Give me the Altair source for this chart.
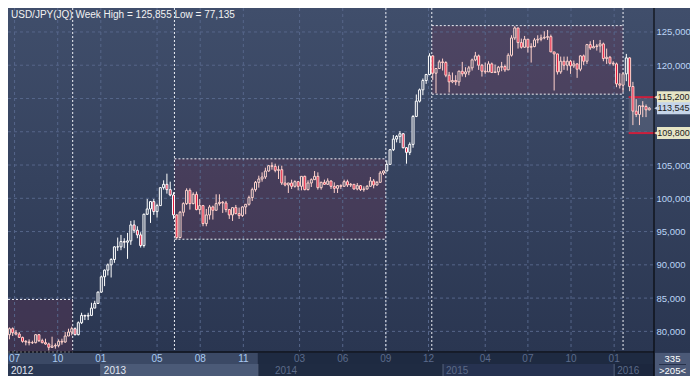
import altair as alt
import pandas as pd

TITLE = "USD/JPY(JQ) Week High = 125,855 Low = 77,135"
FIRST_WEEK = "2012-06-20"

# weekly OHLC, Jun 2012 .. Mar 2016 (one line per calendar year)
opens = [
    79.5, 80.4, 79.8, 79.6, 79.1, 78.5, 78.4, 78.3, 78.3, 79.5, 78.6, 78.3, 78.1, 77.6, 77.8, 77.9, 78.5, 78.4, 79.3, 79.9, 80.4, 79.5, 81.3, 82.4, 82.3, 82.4, 83.5, 84.2, 85.9,
    88.2, 89.2, 90.0, 90.8, 92.7, 92.7, 93.5, 93.4, 93.6, 96.0, 95.2, 94.5, 92.9, 97.6, 98.4, 99.5, 98.0, 98.9, 101.6, 102.1, 101.3, 100.5, 97.5, 94.1, 97.9, 99.2, 101.2, 99.2, 100.6, 98.3, 98.9, 96.2, 97.5, 98.7, 98.2, 99.2, 99.4, 99.3, 98.3, 97.5, 98.6, 97.7, 97.4, 98.7, 99.1, 100.1, 101.3, 102.4, 102.9, 103.2, 104.1, 104.9,
    104.8, 104.2, 104.3, 102.3, 102.0, 102.3, 101.8, 102.5, 101.8, 103.3, 101.3, 102.3, 102.8, 103.3, 101.6, 102.4, 102.1, 102.6, 101.8, 101.5, 101.9, 101.8, 102.5, 102.0, 102.1, 101.4, 101.9, 101.3, 101.4, 101.8, 102.6, 102.0, 102.4, 103.8, 104.1, 105.1, 107.3, 108.9, 109.3, 109.7, 107.6, 106.9, 108.1, 112.3, 114.6, 116.3, 117.7, 118.6, 121.4, 118.8, 119.5, 120.5,
    120.4, 118.5, 117.5, 117.7, 117.5, 119.1, 118.7, 119.0, 119.6, 120.8, 121.4, 120.0, 119.1, 119.0, 120.2, 118.9, 119.0, 119.7, 119.8, 119.3, 121.5, 124.1, 125.6, 123.4, 122.7, 123.9, 122.7, 122.8, 123.8, 123.9, 124.1, 124.2, 124.3, 122.0, 121.7, 119.0, 120.6, 120.0, 120.6, 119.9, 120.2, 119.4, 121.4, 120.6, 123.1, 122.6, 122.8, 122.9, 123.2, 121.0, 121.2, 120.3,
    120.2, 117.2, 117.0, 118.7, 121.1, 116.8, 113.1, 112.6, 113.9, 113.8, 113.3,
]
highs = [
    80.6, 80.6, 80.2, 79.9, 79.2, 78.7, 78.8, 78.6, 79.6, 79.6, 78.9, 78.9, 78.3, 79.2, 78.2, 78.8, 78.9, 79.9, 80.4, 80.7, 80.6, 81.5, 82.8, 82.5, 82.8, 84.3, 84.6, 86.0, 88.4,
    89.3, 90.2, 91.0, 92.8, 94.1, 94.5, 94.0, 94.8, 96.6, 96.7, 95.8, 94.9, 97.7, 99.9, 99.6, 99.9, 99.2, 101.6, 102.7, 103.7, 102.5, 100.9, 97.6, 98.1, 99.4, 101.5, 101.5, 100.9, 101.0, 99.9, 99.0, 98.4, 99.0, 98.9, 100.6, 100.6, 99.6, 99.6, 98.4, 98.6, 99.0, 98.6, 98.8, 99.1, 100.4, 101.6, 102.6, 103.4, 103.9, 104.6, 105.0, 105.4,
    105.2, 104.9, 104.9, 103.4, 102.3, 102.8, 102.7, 102.6, 103.3, 103.4, 102.7, 103.0, 104.1, 103.9, 102.5, 102.8, 103.0, 102.7, 102.4, 102.0, 102.1, 102.8, 102.8, 102.3, 102.1, 102.3, 102.0, 101.8, 102.0, 103.2, 102.9, 102.6, 104.1, 104.2, 105.7, 107.4, 109.5, 109.5, 110.1, 109.8, 107.7, 108.4, 112.5, 115.6, 116.5, 118.0, 118.7, 121.8, 121.5, 119.5, 120.8, 121.0,
    120.6, 119.0, 118.9, 118.5, 119.2, 120.5, 119.7, 119.9, 121.0, 122.0, 121.6, 120.2, 120.4, 120.6, 120.4, 120.1, 119.9, 120.5, 120.1, 121.8, 124.5, 125.855, 125.6, 124.0, 124.4, 123.9, 123.3, 124.1, 124.5, 124.6, 125.1, 125.3, 124.6, 122.0, 121.7, 121.3, 121.3, 121.3, 120.8, 120.7, 120.3, 121.5, 121.6, 123.2, 123.6, 123.8, 123.2, 123.8, 123.4, 122.5, 121.4, 120.6,
    120.4, 118.8, 118.9, 121.7, 121.2, 117.5, 114.9, 114.0, 114.6, 114.1, 113.7,
]
lows = [
    78.8, 79.3, 79.4, 79.0, 78.3, 77.9, 77.9, 78.1, 78.2, 78.4, 78.2, 78.0, 77.135, 77.5, 77.4, 77.6, 78.0, 78.3, 79.3, 79.4, 79.4, 79.4, 81.1, 81.7, 81.7, 82.3, 83.5, 84.2, 85.8,
    86.8, 88.4, 88.1, 90.3, 92.1, 92.2, 92.5, 90.9, 93.0, 94.8, 94.0, 92.6, 92.6, 97.5, 96.3, 97.5, 97.1, 98.9, 101.3, 100.7, 100.3, 96.9, 93.8, 94.0, 97.3, 99.0, 98.3, 99.1, 98.2, 97.6, 95.8, 95.8, 96.8, 96.8, 98.2, 98.9, 97.8, 97.9, 96.9, 96.6, 97.6, 96.9, 97.2, 97.6, 98.9, 99.6, 101.0, 101.6, 102.5, 102.9, 104.0, 104.3,
    103.9, 102.9, 102.0, 101.8, 100.8, 101.4, 101.6, 101.2, 101.2, 101.2, 101.2, 101.7, 102.8, 101.3, 101.3, 102.0, 102.0, 101.4, 100.8, 100.8, 101.4, 101.8, 101.7, 101.7, 101.3, 101.2, 101.1, 101.0, 101.3, 101.8, 101.5, 101.9, 102.4, 103.5, 104.1, 105.1, 107.1, 108.4, 108.3, 107.5, 105.2, 106.5, 107.6, 112.2, 114.4, 115.5, 117.2, 118.5, 117.8, 115.8, 119.5, 119.2,
    118.2, 115.9, 117.3, 117.0, 116.9, 118.3, 118.2, 118.5, 119.2, 120.6, 119.3, 118.3, 118.7, 119.0, 118.9, 118.9, 118.5, 119.1, 119.0, 119.3, 121.3, 123.8, 122.5, 122.5, 122.6, 121.9, 120.4, 122.7, 123.3, 123.6, 123.9, 123.8, 122.0, 116.2, 118.6, 118.7, 119.3, 119.2, 118.7, 119.6, 118.1, 119.1, 120.0, 120.2, 122.3, 122.6, 122.2, 121.9, 120.6, 120.2, 120.1, 119.9,
    116.7, 116.5, 115.98, 117.6, 116.1, 111.0, 112.2, 111.0, 112.2, 112.2, 113.2,
]
closes = [
    80.4, 79.8, 79.6, 79.1, 78.5, 78.4, 78.3, 78.3, 79.5, 78.6, 78.3, 78.1, 77.6, 77.8, 77.9, 78.5, 78.4, 79.3, 79.9, 80.4, 79.5, 81.3, 82.4, 82.3, 82.4, 83.5, 84.2, 85.9, 88.2,
    89.2, 90.0, 90.8, 92.7, 92.7, 93.5, 93.4, 93.6, 96.0, 95.2, 94.5, 92.9, 97.6, 98.4, 99.5, 98.0, 98.9, 101.6, 102.1, 101.3, 100.5, 97.5, 94.1, 97.9, 99.2, 101.2, 99.2, 100.6, 98.3, 98.9, 96.2, 97.5, 98.7, 98.2, 99.2, 99.4, 99.3, 98.3, 97.5, 98.6, 97.7, 97.4, 98.7, 99.1, 100.1, 101.3, 102.4, 102.9, 103.2, 104.1, 104.9, 104.8,
    104.2, 104.3, 102.3, 102.0, 102.3, 101.8, 102.5, 101.8, 103.3, 101.3, 102.3, 102.8, 103.3, 101.6, 102.4, 102.1, 102.6, 101.8, 101.5, 101.9, 101.8, 102.5, 102.0, 102.1, 101.4, 101.9, 101.3, 101.4, 101.8, 102.6, 102.0, 102.4, 103.8, 104.1, 105.1, 107.3, 108.9, 109.3, 109.7, 107.6, 106.9, 108.1, 112.3, 114.6, 116.3, 117.7, 118.6, 121.4, 118.8, 119.5, 120.5, 120.4,
    118.5, 117.5, 117.7, 117.5, 119.1, 118.7, 119.0, 119.6, 120.8, 121.4, 120.0, 119.1, 119.0, 120.2, 118.9, 119.0, 119.7, 119.8, 119.3, 121.5, 124.1, 125.6, 123.4, 122.7, 123.9, 122.7, 122.8, 123.8, 123.9, 124.1, 124.2, 124.3, 122.0, 121.7, 119.0, 120.6, 120.0, 120.6, 119.9, 120.2, 119.4, 121.4, 120.6, 123.1, 122.6, 122.8, 122.9, 123.2, 121.0, 121.2, 120.3, 120.2,
    117.2, 117.0, 118.7, 121.1, 116.8, 113.1, 112.6, 113.9, 113.8, 113.3, 113.545,
]

x_start_str, x_end_str = "2012-06-17", "2016-03-26"
grid_levels = [80, 85, 90, 95, 100, 105, 110, 115, 120, 125]
axis_levels = [80, 85, 90, 95, 100, 105, 120, 125]

month_dates = ["2012-07-01", "2012-10-01", "2013-01-01", "2013-05-01", "2013-08-01", "2013-11-01",
               "2014-03-01", "2014-06-01", "2014-09-01", "2014-12-01", "2015-04-01", "2015-07-01",
               "2015-10-01", "2016-01-01"]
month_texts = ["07", "10", "01", "05", "08", "11", "03", "06", "09", "12", "04", "07", "10", "01"]
month_keys = ["m_hi"] * 6 + ["m_lo"] * 8

year_dates = ["2012-06-17", "2013-01-01", "2014-01-01", "2015-01-01", "2016-01-01"]
year_texts = ["2012", "2013", "2014", "2015", "2016"]
year_keys = ["y_hi", "y_hi", "y_lo", "y_lo", "y_lo"]

shade_starts = ["2012-06-17", "2013-06-07", "2014-12-08"]
shade_ends = ["2012-11-02", "2014-09-01", "2016-01-20"]
shade_tops = [84.8, 105.93, 125.95]
shade_bottoms = [76.9, 93.85, 115.65]
divider_dates = ["2012-11-02", "2013-06-07", "2014-09-01", "2014-12-08", "2016-01-20"]

range_start = "2016-02-01"
range_high = 115.2
range_low = 109.8
tag_values = [115.2, 113.545, 109.8]
tag_texts = ["115,200", "113,545", "109,800"]
tag_keys = ["tag_range", "tag_last", "tag_range"]

month_band_starts = ["2012-06-17", "2013-12-02"]
month_band_ends = ["2013-12-02", "2016-03-26"]
month_band_keys = ["m_hi", "m_lo"]
year_band_starts = ["2012-06-17", "2013-01-01", "2013-12-02", "2015-01-01", "2016-01-01"]
year_band_ends = ["2013-01-01", "2013-12-02", "2015-01-01", "2016-01-01", "2016-03-26"]
year_band_keys = ["y12", "y13", "y14", "y15", "y16"]
year_seps = ["2013-01-01", "2013-12-02", "2015-01-01", "2016-01-01"]

corner_texts = ["335", ">205<"]

# ---------------- layout / styles ----------------
W, H = 646, 344
PAD_R, PAD_B = 36, 24
FONT = "Liberation Sans"

xscale = alt.Scale(domain=[alt.DateTime(year=2012, month=6, date=17),
                           alt.DateTime(year=2016, month=3, date=26)], nice=False, padding=0)
yscale = alt.Scale(domain=[76.9, 128.6], nice=False, zero=False, padding=0)
yaxis = alt.Axis(orient="right", values=axis_levels, title=None, domain=False, ticks=False, grid=False,
                 labelExpr="replace(format(datum.value, '.3f'), '.', ',')",
                 labelColor="#bcd4f6", labelFont=FONT, labelFontSize=9.5, labelPadding=2, zindex=1)

FILL_SCALE = alt.Scale(
    domain=["up", "down", "m_hi", "m_lo", "y12", "y13", "y14", "y15", "y16"],
    range=["#33405c", "#e2163a", "#3b4965", "#1e2a41", "#2b3853", "#4b5a77", "#1f2b42", "#263250", "#1c273e"])
STROKE_SCALE = alt.Scale(domain=["white", "pink"], range=["#ffffff", "#ffd2cc"])
COLOR_SCALE = alt.Scale(
    domain=["m_hi", "m_lo", "y_hi", "y_lo", "tag_range", "tag_last"],
    range=["#a9c9f2", "#5b6b8b", "#e2e8f3", "#5b6a88", "#e6e5c6", "#c6d5ea"])


def X(f):
    return alt.X(f"{f}:T", scale=xscale, axis=None)


def Y(f):
    return alt.Y(f"{f}:Q", scale=yscale, axis=yaxis)


# ---------------- tables ----------------
dates = pd.date_range(FIRST_WEEK, periods=len(closes), freq="7D")
candles = pd.DataFrame({"date": dates, "open": opens, "high": highs, "low": lows, "close": closes})
candles["dir"] = ["down" if c < o else "up" for o, c in zip(opens, closes)]
zone_bounds = [(pd.Timestamp(s), pd.Timestamp(e))
               for s, e in zip(shade_starts + [range_start], shade_ends + [x_end_str])]
candles["tone"] = ["pink" if any(s <= d <= e for s, e in zone_bounds) else "white" for d in dates]

one = pd.DataFrame({"k": [0]})
shade_df = pd.DataFrame({"start": shade_starts, "end": shade_ends, "top": shade_tops, "bottom": shade_bottoms})
range_df = pd.DataFrame({"start": [range_start], "high": [range_high], "low": [range_low]})
month_df = pd.DataFrame({"date": month_dates, "label": month_texts, "key": month_keys})
year_df = pd.DataFrame({"date": year_dates, "label": year_texts, "key": year_keys})
mband_df = pd.DataFrame({"start": month_band_starts, "end": month_band_ends, "key": month_band_keys})
yband_df = pd.DataFrame({"start": year_band_starts, "end": year_band_ends, "key": year_band_keys})
tag_df = pd.DataFrame({"value": tag_values, "label": tag_texts, "key": tag_keys})

# ---------------- layers ----------------
grad = alt.LinearGradient(gradient="linear",
                          stops=[alt.GradientStop(color="#404e6b", offset=0),
                                 alt.GradientStop(color="#2a3651", offset=1)],
                          x1=0, x2=0, y1=0, y2=1)
bg = alt.Chart(one).mark_rect(color=grad).encode(
    x=alt.value(0), x2=alt.value(W + PAD_R), y=alt.value(0), y2=alt.value(H))

shade = alt.Chart(shade_df).mark_rect(color="#7a3050", opacity=0.25).encode(
    x=X("start"), x2="end", y=Y("top"), y2="bottom")
zone = alt.Chart(range_df).mark_rect(color="#ffffff", opacity=0.1).encode(
    x=X("start"), x2=alt.value(W), y=Y("high"), y2="low")

hgrid = alt.Chart(pd.DataFrame({"level": grid_levels})).mark_rule(
    color="#56668a", strokeDash=[3, 3], strokeWidth=1).encode(y=Y("level"), x=alt.value(0), x2=alt.value(W))
vgrid = alt.Chart(month_df).mark_rule(color="#56668a", strokeDash=[3, 3], strokeWidth=1).encode(
    x=X("date"), y=alt.value(0), y2=alt.value(H))

dividers = alt.Chart(pd.DataFrame({"date": divider_dates})).mark_rule(
    color="#eef0f6", strokeDash=[2, 2], strokeWidth=1).encode(x=X("date"), y=alt.value(0), y2=alt.value(H))
edge_top = alt.Chart(shade_df).mark_rule(color="#eef0f6", strokeDash=[2, 2], strokeWidth=1).encode(
    x=X("start"), x2="end", y=Y("top"))
edge_bot = alt.Chart(shade_df).mark_rule(color="#eef0f6", strokeDash=[2, 2], strokeWidth=1).encode(
    x=X("start"), x2="end", y=Y("bottom"))

red_hi = alt.Chart(range_df).mark_rule(color="#cc1f3c", strokeWidth=2).encode(
    x=X("start"), x2=alt.value(W + 2), y=Y("high"))
red_lo = alt.Chart(range_df).mark_rule(color="#cc1f3c", strokeWidth=2).encode(
    x=X("start"), x2=alt.value(W + 2), y=Y("low"))

wicks = alt.Chart(candles).mark_rule(strokeWidth=1).encode(
    x=X("date"), y=Y("low"), y2="high",
    stroke=alt.Stroke("tone:N", scale=STROKE_SCALE, legend=None))
bodies = alt.Chart(candles).mark_bar(width=2, strokeWidth=1).encode(
    x=X("date"), y=Y("open"), y2="close",
    fill=alt.Fill("dir:N", scale=FILL_SCALE, legend=None),
    stroke=alt.Stroke("tone:N", scale=STROKE_SCALE, legend=None))

black_v = alt.Chart(one).mark_rule(color="#000000", strokeWidth=1).encode(
    x=alt.value(W), y=alt.value(0), y2=alt.value(H + PAD_B))
black_h = alt.Chart(one).mark_rule(color="#000000", strokeWidth=1).encode(
    y=alt.value(H), x=alt.value(0), x2=alt.value(W))

mbands = alt.Chart(mband_df).mark_rect().encode(
    x=X("start"), x2="end", y=alt.value(H + 1), y2=alt.value(H + 12),
    fill=alt.Fill("key:N", scale=FILL_SCALE, legend=None))
ybands = alt.Chart(yband_df).mark_rect().encode(
    x=X("start"), x2="end", y=alt.value(H + 12), y2=alt.value(H + PAD_B),
    fill=alt.Fill("key:N", scale=FILL_SCALE, legend=None))
ysep = alt.Chart(pd.DataFrame({"date": year_seps})).mark_rule(color="#56637d", strokeWidth=1).encode(
    x=X("date"), y=alt.value(H + 12), y2=alt.value(H + PAD_B))

mlabels = alt.Chart(month_df).mark_text(font=FONT, fontSize=10, baseline="middle", align="center").encode(
    x=X("date"), y=alt.value(H + 7), text="label:N",
    color=alt.Color("key:N", scale=COLOR_SCALE, legend=None))
ylabels = alt.Chart(year_df).mark_text(font=FONT, fontSize=10, baseline="middle", align="left", dx=3).encode(
    x=X("date"), y=alt.value(H + 18.5), text="label:N",
    color=alt.Color("key:N", scale=COLOR_SCALE, legend=None))

corner = alt.Chart(one).mark_rect(color="#4b5977").encode(
    x=alt.value(W + 1), x2=alt.value(W + PAD_R), y=alt.value(H + 1), y2=alt.value(H + PAD_B))
corner_sep = alt.Chart(one).mark_rule(color="#26314a", strokeWidth=1).encode(
    x=alt.value(W + 5), x2=alt.value(W + 32), y=alt.value(H + 12.5))
corner_t1 = alt.Chart(one).mark_text(text=corner_texts[0], font=FONT, fontSize=9.5, color="#ffffff",
                                     align="center", baseline="middle").encode(
    x=alt.value(W + 18.5), y=alt.value(H + 6.5))
corner_t2 = alt.Chart(one).mark_text(text=corner_texts[1], font=FONT, fontSize=9.5, color="#ffffff",
                                     align="center", baseline="middle").encode(
    x=alt.value(W + 18.5), y=alt.value(H + 18.5))

tag_box = alt.Chart(tag_df).mark_tick(orient="horizontal", thickness=12, size=33, opacity=1).encode(
    y=Y("value"), x=alt.value(W + 19.5), color=alt.Color("key:N", scale=COLOR_SCALE, legend=None))
tag_arrow = alt.Chart(tag_df).mark_point(shape="triangle-left", filled=True, size=26, opacity=1).encode(
    y=Y("value"), x=alt.value(W + 2.5), color=alt.Color("key:N", scale=COLOR_SCALE, legend=None))
tag_text = alt.Chart(tag_df).mark_text(font=FONT, fontSize=9, color="#1b1b1b", align="center",
                                       baseline="middle").encode(
    y=Y("value"), x=alt.value(W + 19.5), text="label:N")

title = alt.Chart(one).mark_text(text=TITLE, font=FONT, fontSize=10, color="#f2f2f2",
                                 align="left", baseline="top").encode(x=alt.value(3), y=alt.value(2))

chart = alt.layer(
    bg, shade, zone, hgrid, vgrid, dividers, edge_top, edge_bot, red_hi, red_lo,
    wicks, bodies, black_h, mbands, ybands, ysep, mlabels, ylabels, black_v,
    corner, corner_sep, corner_t1, corner_t2, tag_box, tag_arrow, tag_text, title,
).properties(
    width=W, height=H,
    padding={"left": 0, "top": 0, "right": PAD_R, "bottom": PAD_B},
    autosize=alt.AutoSizeParams(type="none"),
    background="#2c3955",
).configure_view(stroke=None)

chart.save("out.html", embed_options={"renderer": "svg", "actions": False})
